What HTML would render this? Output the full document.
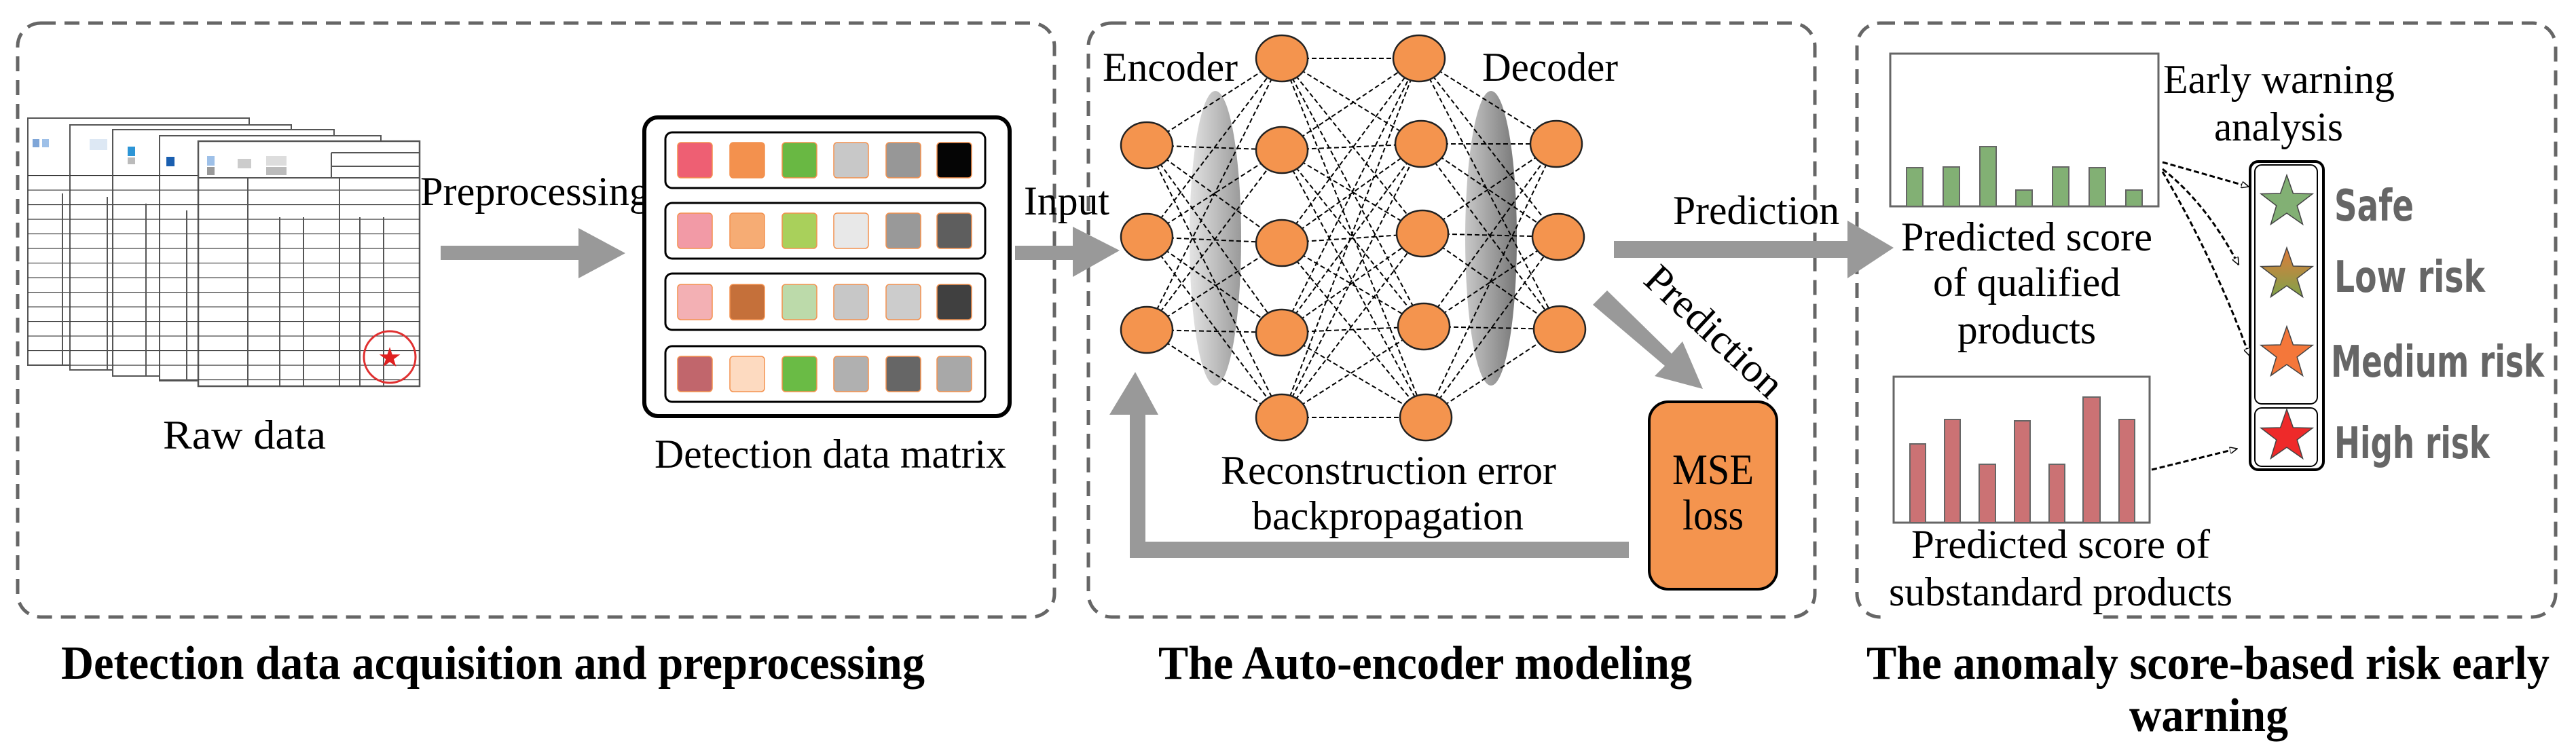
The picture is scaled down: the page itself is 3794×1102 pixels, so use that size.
<!DOCTYPE html>
<html><head><meta charset="utf-8"><style>html,body{margin:0;padding:0;background:#fff}svg{display:block}</style></head>
<body>
<svg width="3794" height="1102" viewBox="0 0 3794 1102" xmlns="http://www.w3.org/2000/svg">
<defs>
<pattern id="rows" x="0" y="0" width="40" height="21.5" patternUnits="userSpaceOnUse"><line x1="0" y1="0.5" x2="40" y2="0.5" stroke="#333" stroke-width="1.2"/></pattern>
<linearGradient id="encg" x1="0" x2="1"><stop offset="0" stop-color="#e4e4e4"/><stop offset="1" stop-color="#9a9a9a"/></linearGradient>
<linearGradient id="decg" x1="0" x2="1"><stop offset="0" stop-color="#c8c8c8"/><stop offset="1" stop-color="#777"/></linearGradient>
<linearGradient id="lowg" x1="0" y1="0" x2="0" y2="1"><stop offset="0" stop-color="#e07a3a"/><stop offset="1" stop-color="#7fa34a"/></linearGradient>
<marker id="oh" markerWidth="12" markerHeight="10" refX="11" refY="5" orient="auto" markerUnits="userSpaceOnUse" viewBox="0 0 12 10"><path d="M0 0L11 5L0 10Z" fill="#fff" stroke="#000" stroke-width="1.5"/></marker>
</defs>

<g fill="none" stroke="#666" stroke-width="5" stroke-dasharray="22 13">
<rect x="26" y="34" width="1527" height="875" rx="34"/>
<rect x="1603" y="34" width="1070" height="875" rx="34"/>
<rect x="2735" y="34" width="1029" height="875" rx="34"/>
</g>

<g stroke="#555" stroke-width="2">
<rect x="41" y="174" width="326" height="364" fill="#fff"/>
<rect x="41" y="240" width="326" height="298" fill="url(#rows)" stroke="none"/>
<line x1="92" y1="285" x2="92" y2="538"/>
<rect x="48" y="205" width="10" height="12" fill="#7fa6d8" stroke="none"/><rect x="62" y="205" width="10" height="12" fill="#9ec0e8" stroke="none"/>
<rect x="103" y="184" width="326" height="361" fill="#fff"/>
<rect x="103" y="245" width="326" height="300" fill="url(#rows)" stroke="none"/>
<line x1="158" y1="290" x2="158" y2="545"/>
<rect x="132" y="205" width="26" height="16" fill="#dde8f4" stroke="none"/>
<rect x="166" y="191" width="326" height="363" fill="#fff"/>
<rect x="166" y="250" width="326" height="304" fill="url(#rows)" stroke="none"/>
<line x1="215" y1="300" x2="215" y2="554"/>
<rect x="188" y="216" width="11" height="14" fill="#2d95d6" stroke="none"/><rect x="188" y="232" width="11" height="10" fill="#bbb" stroke="none"/>
<rect x="235" y="200" width="326" height="361" fill="#fff"/>
<rect x="235" y="258" width="326" height="303" fill="url(#rows)" stroke="none"/>
<line x1="275" y1="310" x2="275" y2="561"/>
<rect x="245" y="231" width="12" height="14" fill="#1a5fb0" stroke="none"/>
<rect x="292" y="208" width="326" height="361" fill="#fff" stroke-width="2.5"/>
<rect x="292" y="262" width="326" height="307" fill="url(#rows)" stroke="none"/>
<line x1="292" y1="262" x2="618" y2="262"/>
<line x1="365" y1="262" x2="365" y2="569"/><line x1="412" y1="320" x2="412" y2="569"/><line x1="447" y1="320" x2="447" y2="569"/><line x1="500" y1="262" x2="500" y2="569"/><line x1="530" y1="320" x2="530" y2="569"/><line x1="565" y1="320" x2="565" y2="569"/>
<line x1="488" y1="225" x2="618" y2="225"/><line x1="488" y1="245" x2="618" y2="245"/><line x1="488" y1="225" x2="488" y2="262"/>
<rect x="305" y="230" width="11" height="14" fill="#9ec0e8" stroke="none"/><rect x="305" y="246" width="11" height="12" fill="#999" stroke="none"/>
<rect x="350" y="234" width="20" height="14" fill="#ccc" stroke="none"/><rect x="392" y="230" width="30" height="14" fill="#ddd" stroke="none"/><rect x="392" y="246" width="30" height="12" fill="#bbb" stroke="none"/>
<circle cx="574" cy="526" r="38" fill="none" stroke="#e03030" stroke-width="3"/>
</g>
<text x="574" y="540" font-size="40" fill="#e02020" text-anchor="middle" font-family="DejaVu Sans">★</text>

<g font-family="Liberation Serif, serif" fill="#000" lengthAdjust="spacingAndGlyphs">
<text x="240" y="661" font-size="60" textLength="240" lengthAdjust="spacingAndGlyphs">Raw  data</text>
<text x="619" y="302" font-size="60" textLength="338" lengthAdjust="spacingAndGlyphs">Preprocessing</text>
<text x="964" y="689" font-size="60" textLength="518" lengthAdjust="spacingAndGlyphs">Detection data matrix</text>
<text x="1508" y="316" font-size="60" textLength="126" lengthAdjust="spacingAndGlyphs">Input</text>
<text x="1624" y="119" font-size="60" textLength="199" lengthAdjust="spacingAndGlyphs">Encoder</text>
<text x="2183" y="119" font-size="60" textLength="200" lengthAdjust="spacingAndGlyphs">Decoder</text>
<text x="2464" y="330" font-size="60" textLength="245" lengthAdjust="spacingAndGlyphs">Prediction</text>
<text transform="translate(2525,488) rotate(43)" x="0" y="20" font-size="60" text-anchor="middle" textLength="255" lengthAdjust="spacingAndGlyphs">Prediction</text>
</g>

<path d="M649 362H852V336L921 373L852 410V383H649Z" fill="#999"/>
<rect x="949" y="173" width="538" height="440" rx="20" fill="#fff" stroke="#000" stroke-width="6"/>
<g fill="#fff" stroke="#000" stroke-width="3">
<rect x="980" y="195" width="471" height="82" rx="10"/>
<rect x="980" y="299" width="471" height="82" rx="10"/>
<rect x="980" y="403" width="471" height="83" rx="10"/>
<rect x="980" y="510" width="471" height="82" rx="10"/>
</g>
<g stroke="#f3914e" stroke-width="1.5">
<rect x="998" y="210" width="51" height="52" rx="5" fill="#EE5F73"/><rect x="1075" y="210" width="51" height="52" rx="5" fill="#F3914E"/><rect x="1152" y="210" width="51" height="52" rx="5" fill="#69B843"/><rect x="1228" y="210" width="51" height="52" rx="5" fill="#C8C8C8"/><rect x="1305" y="210" width="51" height="52" rx="5" fill="#979797"/><rect x="1380" y="210" width="51" height="52" rx="5" fill="#050505"/>
<rect x="998" y="314" width="51" height="52" rx="5" fill="#F29AA6"/><rect x="1075" y="314" width="51" height="52" rx="5" fill="#F6AC74"/><rect x="1152" y="314" width="51" height="52" rx="5" fill="#A9D05B"/><rect x="1228" y="314" width="51" height="52" rx="5" fill="#E8E8E8"/><rect x="1305" y="314" width="51" height="52" rx="5" fill="#999999"/><rect x="1380" y="314" width="51" height="52" rx="5" fill="#5E5E5E"/>
<rect x="998" y="419" width="51" height="52" rx="5" fill="#F3B0B4"/><rect x="1075" y="419" width="51" height="52" rx="5" fill="#C5703A"/><rect x="1152" y="419" width="51" height="52" rx="5" fill="#BCDAAA"/><rect x="1228" y="419" width="51" height="52" rx="5" fill="#C7C7C7"/><rect x="1305" y="419" width="51" height="52" rx="5" fill="#CCCCCC"/><rect x="1380" y="419" width="51" height="52" rx="5" fill="#404040"/>
<rect x="998" y="525" width="51" height="52" rx="5" fill="#C1666C"/><rect x="1075" y="525" width="51" height="52" rx="5" fill="#FDDAC0"/><rect x="1152" y="525" width="51" height="52" rx="5" fill="#6ABB45"/><rect x="1228" y="525" width="51" height="52" rx="5" fill="#B0B0B0"/><rect x="1305" y="525" width="51" height="52" rx="5" fill="#666666"/><rect x="1380" y="525" width="51" height="52" rx="5" fill="#A8A8A8"/>
</g>

<path d="M1495 362H1580V334L1649 369L1580 408V383H1495Z" fill="#999"/>

<ellipse cx="1790" cy="351" rx="38" ry="217" fill="url(#encg)"/>
<ellipse cx="2196" cy="351" rx="38" ry="217" fill="url(#decg)"/>
<g stroke="#000" stroke-width="2" stroke-dasharray="7 4" fill="none">
<path d="M1689 214L1888 86M1689 214L1888 221M1689 214L1888 358M1689 214L1888 490M1689 214L1888 615M1689 349L1888 86M1689 349L1888 221M1689 349L1888 358M1689 349L1888 490M1689 349L1888 615M1689 486L1888 86M1689 486L1888 221M1689 486L1888 358M1689 486L1888 490M1689 486L1888 615"/>
<path d="M1888 86L2090 86M1888 86L2093 212M1888 86L2095 344M1888 86L2097 481M1888 86L2100 615M1888 221L2090 86M1888 221L2093 212M1888 221L2095 344M1888 221L2097 481M1888 221L2100 615M1888 358L2090 86M1888 358L2093 212M1888 358L2095 344M1888 358L2097 481M1888 358L2100 615M1888 490L2090 86M1888 490L2093 212M1888 490L2095 344M1888 490L2097 481M1888 490L2100 615M1888 615L2090 86M1888 615L2093 212M1888 615L2095 344M1888 615L2097 481M1888 615L2100 615"/>
<path d="M2090 86L2292 212M2090 86L2295 349M2090 86L2297 485M2093 212L2292 212M2093 212L2295 349M2093 212L2297 485M2095 344L2292 212M2095 344L2295 349M2095 344L2297 485M2097 481L2292 212M2097 481L2295 349M2097 481L2297 485M2100 615L2292 212M2100 615L2295 349M2100 615L2297 485"/>
</g>
<g fill="#F4944E" stroke="#222" stroke-width="2.5">
<ellipse cx="1689" cy="214" rx="38" ry="34"/><ellipse cx="1689" cy="349" rx="38" ry="34"/><ellipse cx="1689" cy="486" rx="38" ry="34"/>
<ellipse cx="1888" cy="86" rx="38" ry="34"/><ellipse cx="1888" cy="221" rx="38" ry="34"/><ellipse cx="1888" cy="358" rx="38" ry="34"/><ellipse cx="1888" cy="490" rx="38" ry="34"/><ellipse cx="1888" cy="615" rx="38" ry="34"/>
<ellipse cx="2090" cy="86" rx="38" ry="34"/><ellipse cx="2093" cy="212" rx="38" ry="34"/><ellipse cx="2095" cy="344" rx="38" ry="34"/><ellipse cx="2097" cy="481" rx="38" ry="34"/><ellipse cx="2100" cy="615" rx="38" ry="34"/>
<ellipse cx="2292" cy="212" rx="38" ry="34"/><ellipse cx="2295" cy="349" rx="38" ry="34"/><ellipse cx="2297" cy="485" rx="38" ry="34"/>
</g>

<path d="M2377 355H2721V325L2789 365L2721 410V380H2377Z" fill="#999"/>
<path d="M2346 449L2367 428L2462 521L2478 503L2508 573L2437 554L2452 539Z" fill="#999"/>
<rect x="2429" y="592" width="188" height="276" rx="28" fill="#F4944E" stroke="#000" stroke-width="4"/>
<path d="M2399 798V822H1664V611H1634L1672 548L1706 611H1687V798Z" fill="#999"/>
<g font-family="Liberation Serif, serif" fill="#000">
<text x="2523" y="713" font-size="64" text-anchor="middle" textLength="120" lengthAdjust="spacingAndGlyphs">MSE</text>
<text x="2523" y="780" font-size="64" text-anchor="middle" textLength="90" lengthAdjust="spacingAndGlyphs">loss</text>
<text x="1798" y="713" font-size="60" textLength="494" lengthAdjust="spacingAndGlyphs">Reconstruction error</text>
<text x="1844" y="780" font-size="60" textLength="400" lengthAdjust="spacingAndGlyphs">backpropagation</text>
</g>

<rect x="2784" y="79" width="395" height="225" fill="#fff" stroke="#666" stroke-width="3"/>
<g fill="#82B074" stroke="#666" stroke-width="2">
<rect x="2808" y="247" width="24" height="57"/><rect x="2862" y="246" width="24" height="58"/><rect x="2916" y="216" width="24" height="88"/><rect x="2969" y="280" width="24" height="24"/><rect x="3023" y="246" width="24" height="58"/><rect x="3077" y="247" width="24" height="57"/><rect x="3131" y="280" width="24" height="24"/>
</g>
<rect x="2789" y="555" width="377" height="215" fill="#fff" stroke="#666" stroke-width="3"/>
<g fill="#CB7274" stroke="#666" stroke-width="2">
<rect x="2813" y="654" width="23" height="116"/><rect x="2864" y="618" width="23" height="152"/><rect x="2915" y="684" width="24" height="86"/><rect x="2967" y="620" width="23" height="150"/><rect x="3018" y="684" width="23" height="86"/><rect x="3068" y="585" width="25" height="185"/><rect x="3121" y="618" width="23" height="152"/>
</g>
<rect x="2775" y="880" width="320" height="40" fill="#fff"/>
<g font-family="Liberation Serif, serif" fill="#000" font-size="60">
<text x="2985" y="369" text-anchor="middle" textLength="370" lengthAdjust="spacingAndGlyphs">Predicted score</text>
<text x="2985" y="436" text-anchor="middle" textLength="276" lengthAdjust="spacingAndGlyphs">of qualified</text>
<text x="2985" y="506" text-anchor="middle" textLength="204" lengthAdjust="spacingAndGlyphs">products</text>
<text x="3035" y="822" text-anchor="middle" textLength="440" lengthAdjust="spacingAndGlyphs">Predicted score of</text>
<text x="3035" y="892" text-anchor="middle" textLength="506" lengthAdjust="spacingAndGlyphs">substandard products</text>
<text x="3186" y="137" textLength="341" lengthAdjust="spacingAndGlyphs">Early warning</text>
<text x="3356" y="207" text-anchor="middle" textLength="190" lengthAdjust="spacingAndGlyphs">analysis</text>
</g>

<rect x="3314" y="238" width="108" height="454" rx="12" fill="#fff" stroke="#000" stroke-width="4"/>
<rect x="3321" y="243" width="92" height="352" rx="10" fill="none" stroke="#000" stroke-width="2"/>
<rect x="3321" y="601" width="92" height="86" rx="10" fill="none" stroke="#000" stroke-width="2"/>
<g stroke="#444" stroke-width="1.5">
<path transform="translate(3368,298)" d="M0,-40L9.4,-13L38,-12.4L15.2,5L23.5,32.4L0,16L-23.5,32.4L-15.2,5L-38,-12.4L-9.4,-13Z" fill="#82B074"/>
<path transform="translate(3368,405)" d="M0,-40L9.4,-13L38,-12.4L15.2,5L23.5,32.4L0,16L-23.5,32.4L-15.2,5L-38,-12.4L-9.4,-13Z" fill="url(#lowg)"/>
<path transform="translate(3368,521)" d="M0,-40L9.4,-13L38,-12.4L15.2,5L23.5,32.4L0,16L-23.5,32.4L-15.2,5L-38,-12.4L-9.4,-13Z" fill="#F4773A"/>
<path transform="translate(3368,643)" d="M0,-40L9.4,-13L38,-12.4L15.2,5L23.5,32.4L0,16L-23.5,32.4L-15.2,5L-38,-12.4L-9.4,-13Z" fill="#EE2A2A"/>
</g>
<g font-family="DejaVu Sans Condensed, DejaVu Sans, sans-serif" fill="#666" font-size="64" font-weight="bold">
<text x="3438" y="325" textLength="117" lengthAdjust="spacingAndGlyphs">Safe</text>
<text x="3438" y="430" textLength="222" lengthAdjust="spacingAndGlyphs">Low risk</text>
<text x="3433" y="555" textLength="314" lengthAdjust="spacingAndGlyphs">Medium risk</text>
<text x="3438" y="675" textLength="229" lengthAdjust="spacingAndGlyphs">High risk</text>
</g>
<g stroke="#000" stroke-width="3" stroke-dasharray="8 4" fill="none" marker-end="url(#oh)">
<path d="M3185 239L3312 275"/>
<path d="M3185 249Q3250 300 3297 390"/>
<path d="M3185 253Q3260 380 3313 524"/>
<path d="M3169 692L3295 661"/>
</g>

<g font-family="Liberation Serif, serif" font-weight="bold" fill="#000" font-size="70">
<text x="90" y="1000" textLength="1272" lengthAdjust="spacingAndGlyphs">Detection data acquisition and preprocessing</text>
<text x="1706" y="1000" textLength="786" lengthAdjust="spacingAndGlyphs">The Auto-encoder modeling</text>
<text x="2749" y="1000" textLength="1006" lengthAdjust="spacingAndGlyphs">The anomaly score-based risk early</text>
<text x="3136" y="1077" textLength="234" lengthAdjust="spacingAndGlyphs">warning</text>
</g>
</svg>
</body></html>
